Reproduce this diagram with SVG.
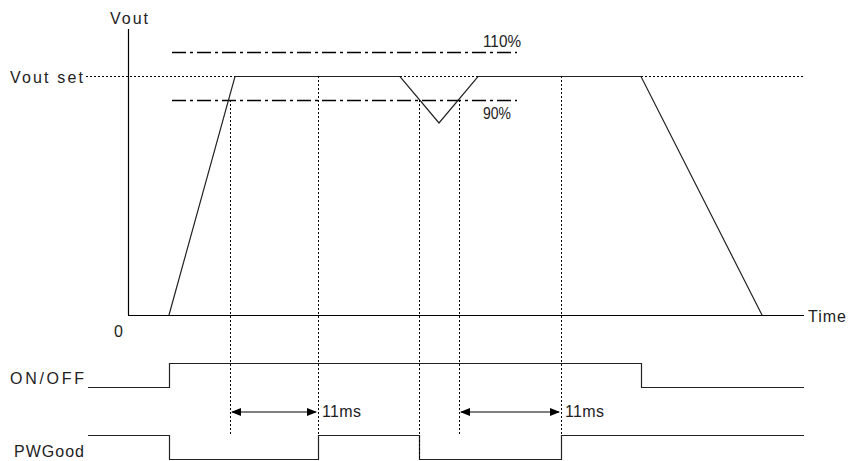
<svg xmlns="http://www.w3.org/2000/svg" width="848" height="461" viewBox="0 0 848 461">
<defs>
<marker id="ah" markerWidth="10" markerHeight="8" refX="9" refY="4" orient="auto-start-reverse" markerUnits="userSpaceOnUse">
<path d="M0,0 L10,4 L0,8 Z" fill="#000"/>
</marker>
<style>
text{font-family:"Liberation Sans",Arial,sans-serif;font-size:16px;fill:#222}
.ax{stroke:#000;stroke-width:1.2;fill:none}
.wave{stroke:#222;stroke-width:1.2;fill:none}
.dot{stroke:#000;stroke-width:1;stroke-dasharray:2,2;fill:none}
.dd{stroke:#000;stroke-width:1.3;stroke-dasharray:14,4,3,4;fill:none}
.arr{stroke:#000;stroke-width:1;fill:none}
</style>
</defs>
<rect width="848" height="461" fill="#fff"/>
<g id="axes">
<line class="ax" x1="128.5" y1="29" x2="128.5" y2="315"/>
<line class="ax" x1="128" y1="315.5" x2="804" y2="315.5"/>
<text x="110" y="24" textLength="38" lengthAdjust="spacing">Vout</text>
<text x="114" y="337">0</text>
<text x="808" y="322" textLength="38" lengthAdjust="spacing">Time</text>
</g>
<g id="levels">
<line class="dot" x1="86" y1="76.5" x2="235" y2="76.5"/>
<line class="dot" x1="400" y1="76.5" x2="478" y2="76.5"/>
<line class="dot" x1="641" y1="76.5" x2="804" y2="76.5"/>
<line class="dd" x1="172" y1="52.5" x2="517" y2="52.5"/>
<line class="dd" x1="172" y1="100.5" x2="517" y2="100.5"/>
<text x="10" y="83" textLength="73" lengthAdjust="spacing">Vout set</text>
<text x="483" y="47" textLength="38" lengthAdjust="spacingAndGlyphs">110%</text>
<text x="483" y="119" textLength="28" lengthAdjust="spacingAndGlyphs">90%</text>
</g>
<g id="vout-wave">
<polyline class="wave" points="169,315 235,76.5 400,76.5 439,123 478,76.5 641,76.5 762,315"/>
</g>
<g id="onoff">
<text x="10" y="384" textLength="74" lengthAdjust="spacing">ON/OFF</text>
<polyline class="wave" points="88,387.5 169.5,387.5 169.5,363.5 641.5,363.5 641.5,387.5 804,387.5"/>
</g>
<g id="pwgood">
<text x="14" y="457" textLength="70" lengthAdjust="spacing">PWGood</text>
<polyline class="wave" points="88,435.5 169.5,435.5 169.5,459.5 318.5,459.5 318.5,435.5 419.5,435.5 419.5,459.5 561.5,459.5 561.5,435.5 804,435.5"/>
</g>
<g id="connectors">
<line class="dot" x1="230.5" y1="100" x2="230.5" y2="435"/>
<line class="dot" x1="318.5" y1="76" x2="318.5" y2="435"/>
<line class="dot" x1="419.5" y1="100" x2="419.5" y2="459"/>
<line class="dot" x1="459.5" y1="100" x2="459.5" y2="435"/>
<line class="dot" x1="561.5" y1="76" x2="561.5" y2="435"/>
<line class="arr" x1="232" y1="412" x2="316" y2="412" marker-start="url(#ah)" marker-end="url(#ah)"/>
<line class="arr" x1="461" y1="412" x2="559" y2="412" marker-start="url(#ah)" marker-end="url(#ah)"/>
<text x="322" y="417" textLength="39" lengthAdjust="spacing">11ms</text>
<text x="565" y="417" textLength="39" lengthAdjust="spacing">11ms</text>
</g>
</svg>
